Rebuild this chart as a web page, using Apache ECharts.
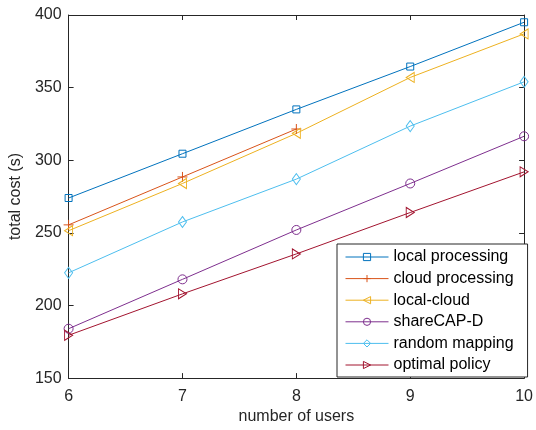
<!DOCTYPE html>
<html>
<head>
<meta charset="utf-8">
<script src="https://cdn.jsdelivr.net/npm/echarts@6/dist/echarts.min.js"></script>
<style>html,body{margin:0;padding:0;background:#fff}#c{width:536px;height:430px}</style>
</head>
<body>
<div id="c"></div>
<script>
var users = [6, 7, 8, 9, 10];
var localProcessing = [274, 304.5, 335, 364.5, 395];
var cloudProcessing = [255.5, 288.5, 321.5, null, null];
var localCloud = [251.5, 284, 318.5, 357, 387];
var shareCAPD = [184, 218, 252, 284, 316.5];
var randomMapping = [222.5, 257.5, 287, 323.5, 354];
var optimalPolicy = [179.5, 208, 235.5, 264, 292];
var yTicks = [150, 200, 250, 300, 350, 400];

var font = 'Liberation Sans, Arial, Helvetica, sans-serif';
var axisColor = '#262626';

var SQUARE = 'path://M0,0 L10,0 L10,10 L0,10 Z';
var PLUS = 'path://M5,0 L5,10 M0,5 L10,5';
var TRI_LEFT = 'path://M0,5 L10,0 L10,10 Z';
var TRI_RIGHT = 'path://M10,5 L0,0 L0,10 Z';
var CIRCLE = 'path://M0,5 A5,5 0 1,1 10,5 A5,5 0 1,1 0,5 Z';
var DIAMOND = 'path://M5,0 L10,5 L5,10 L0,5 Z';

function pairs(vals) {
  return users.map(function (u, i) { return [u, vals[i]]; });
}
function mk(name, vals, color, symbol, size) {
  return {
    name: name, type: 'line', data: pairs(vals),
    symbol: symbol, symbolSize: size,
    showAllSymbol: true, connectNulls: false,
    lineStyle: { color: color, width: 1 },
    itemStyle: { color: 'rgba(0,0,0,0)', borderColor: color, borderWidth: 1 },
    emphasis: { disabled: true }, animation: false
  };
}

var chart = echarts.init(document.getElementById('c'), null, { renderer: 'canvas' });
chart.setOption({
  backgroundColor: '#fff',
  animation: false,
  grid: { left: 67, right: 9, top: 15, bottom: 50 },
  xAxis: [{
    type: 'value', min: 6, max: 10, interval: 1,
    name: 'number of users', nameLocation: 'middle', nameGap: 30,
    nameTextStyle: { fontFamily: font, fontSize: 16, color: axisColor },
    axisLine: { lineStyle: { color: axisColor, width: 1 } },
    axisTick: { inside: true, length: 5, lineStyle: { color: axisColor } },
    axisLabel: { fontFamily: font, fontSize: 16, color: axisColor, margin: 10 },
    splitLine: { show: false }
  }, {
    type: 'value', min: 6, max: 10, interval: 1, position: 'top',
    axisLine: { lineStyle: { color: axisColor, width: 1 } },
    axisTick: { inside: true, length: 5, lineStyle: { color: axisColor } },
    axisLabel: { show: false }, splitLine: { show: false }
  }],
  yAxis: [{
    type: 'value', min: yTicks[0], max: yTicks[yTicks.length - 1], interval: 50,
    name: 'total cost (s)', nameLocation: 'middle', nameGap: 39, nameRotate: 90,
    nameTextStyle: { fontFamily: font, fontSize: 16, color: axisColor },
    axisLine: { show: true, lineStyle: { color: axisColor, width: 1 } },
    axisTick: { show: true, inside: true, length: 5, lineStyle: { color: axisColor } },
    axisLabel: { fontFamily: font, fontSize: 16, color: axisColor, margin: 7 },
    splitLine: { show: false }
  }, {
    type: 'value', min: yTicks[0], max: yTicks[yTicks.length - 1], interval: 50, position: 'right',
    axisLine: { show: true, lineStyle: { color: axisColor, width: 1 } },
    axisTick: { show: true, inside: true, length: 5, lineStyle: { color: axisColor } },
    axisLabel: { show: false }, splitLine: { show: false }
  }],
  legend: {
    orient: 'vertical', left: 337, top: 244,
    padding: [5, 14, 4, 8],
    itemWidth: 43, itemHeight: 9, itemGap: 5.6,
    backgroundColor: '#fff', borderColor: '#262626', borderWidth: 1,
    lineStyle: { width: 1 },
    itemStyle: { color: 'rgba(0,0,0,0)', borderWidth: 1 },
    textStyle: { fontFamily: font, fontSize: 16, color: '#000' },
    selectedMode: false,
    data: ['local processing', 'cloud processing', 'local-cloud', 'shareCAP-D', 'random mapping', 'optimal policy']
  },
  series: [
    mk('local processing', localProcessing, '#0072BD', SQUARE, 7),
    mk('cloud processing', cloudProcessing, '#D95319', PLUS, 10),
    mk('local-cloud', localCloud, '#EDB120', TRI_LEFT, [8, 10]),
    mk('shareCAP-D', shareCAPD, '#7E2F8E', CIRCLE, 9),
    mk('random mapping', randomMapping, '#4DBEEE', DIAMOND, [8, 11]),
    mk('optimal policy', optimalPolicy, '#A2142F', TRI_RIGHT, [8, 10])
  ]
});
</script>
</body>
</html>
